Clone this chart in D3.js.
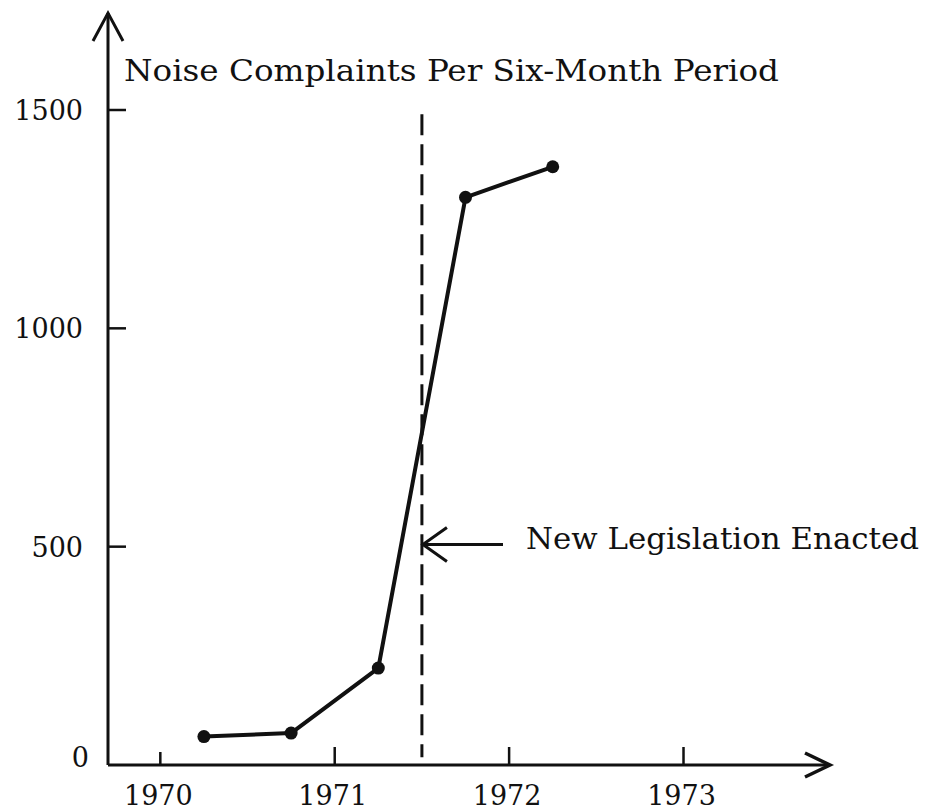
<!DOCTYPE html>
<html>
<head>
<meta charset="utf-8">
<script src="https://cdn.jsdelivr.net/npm/d3@7"></script>
<style>
  html, body { margin: 0; padding: 0; background: #fff; }
  svg { display: block; }
  text { font-family: "DejaVu Serif", "Liberation Serif", serif; fill: #111; }
</style>
</head>
<body>
<svg id="chart" width="930" height="812"></svg>
<script>
// Noise complaints per six-month period, plotted at the middle of each half-year
const periods = [1970.25, 1970.75, 1971.25, 1971.75, 1972.25];
const complaints = [65, 73, 222, 1300, 1370];

const yearTicks = [1970, 1971, 1972, 1973];
const valueTicks = [0, 500, 1000, 1500];

const legislationYear = 1971.5;
const titleText = "Noise Complaints Per Six-Month Period";
const noteText = "New Legislation Enacted";

const svg = d3.select("#chart");
const ink = "#111";

const x = d3.scaleLinear().domain([1969.7, 1973.84]).range([108, 830]);
const y = d3.scaleLinear().domain([0, 1500]).range([765, 110]);

const x0 = x.range()[0];
const y0 = y(0);

// Axes lines
svg.append("line")
  .attr("x1", x0).attr("x2", x0)
  .attr("y1", y0).attr("y2", y(1722))
  .attr("stroke", ink).attr("stroke-width", 3);
svg.append("line")
  .attr("x1", x0).attr("x2", x.range()[1])
  .attr("y1", y0).attr("y2", y0)
  .attr("stroke", ink).attr("stroke-width", 3);

// Open arrowheads at the axis ends
const yTip = [x0, y(1722)];
svg.append("path")
  .attr("d", `M${yTip[0] - 15},${yTip[1] + 28} L${yTip[0]},${yTip[1]} L${yTip[0] + 15},${yTip[1] + 28}`)
  .attr("fill", "none").attr("stroke", ink).attr("stroke-width", 3)
  .attr("stroke-linejoin", "miter");
const xTip = [x.range()[1], y0];
svg.append("path")
  .attr("d", `M${xTip[0] - 25},${xTip[1] - 12} L${xTip[0]},${xTip[1]} L${xTip[0] - 25},${xTip[1] + 12}`)
  .attr("fill", "none").attr("stroke", ink).attr("stroke-width", 3.5)
  .attr("stroke-linejoin", "miter");

// Y ticks (pointing right) and labels
const yAxis = svg.append("g").attr("class", "y-axis");
yAxis.selectAll("line.tick").data(valueTicks.filter(v => v > 0)).join("line")
  .attr("x1", x0).attr("x2", x0 + 18)
  .attr("y1", d => y(d)).attr("y2", d => y(d))
  .attr("stroke", ink).attr("stroke-width", 2.5);
yAxis.selectAll("text").data(valueTicks).join("text")
  .attr("x", d => d === 0 ? 89 : 83)
  .attr("y", d => y(d) + (d === 0 ? 2 : 10))
  .attr("text-anchor", "end")
  .attr("font-size", 27)
  .text(d => d);

// X ticks (pointing up) and labels
const xAxis = svg.append("g").attr("class", "x-axis");
xAxis.selectAll("line").data(yearTicks).join("line")
  .attr("x1", d => x(d)).attr("x2", d => x(d))
  .attr("y1", y0).attr("y2", d => y0 - (d === 1970 ? 13 : 18))
  .attr("stroke", ink).attr("stroke-width", 2.5);
xAxis.selectAll("text").data(yearTicks).join("text")
  .attr("x", d => x(d) - 2)
  .attr("y", 805)
  .attr("text-anchor", "middle")
  .attr("font-size", 27)
  .text(d => d);

// Title
svg.append("text")
  .attr("x", 124).attr("y", 81)
  .attr("font-size", 30)
  .attr("textLength", 655)
  .attr("lengthAdjust", "spacingAndGlyphs")
  .text(titleText);

// Legislation marker
svg.append("line")
  .attr("x1", x(legislationYear)).attr("x2", x(legislationYear))
  .attr("y1", y(1490)).attr("y2", y(18))
  .attr("stroke", ink).attr("stroke-width", 3)
  .attr("stroke-dasharray", "21,9");

// Series line and points
const line = d3.line().x((d, i) => x(periods[i])).y(d => y(d));
svg.append("path")
  .datum(complaints)
  .attr("d", line)
  .attr("fill", "none").attr("stroke", ink).attr("stroke-width", 4)
  .attr("stroke-linejoin", "round");
svg.selectAll("circle.pt").data(complaints).join("circle")
  .attr("class", "pt")
  .attr("cx", (d, i) => x(periods[i]))
  .attr("cy", d => y(d))
  .attr("r", 6.5)
  .attr("fill", ink);

// Annotation arrow and label
const noteY = y(505);
const tipX = x(legislationYear) + 1;
svg.append("line")
  .attr("x1", tipX).attr("x2", 503)
  .attr("y1", noteY).attr("y2", noteY)
  .attr("stroke", ink).attr("stroke-width", 3);
svg.append("path")
  .attr("d", `M${tipX + 24},${noteY - 17} L${tipX},${noteY} L${tipX + 24},${noteY + 17}`)
  .attr("fill", "none").attr("stroke", ink).attr("stroke-width", 3);
svg.append("text")
  .attr("x", 526).attr("y", noteY + 5)
  .attr("font-size", 30)
  .attr("textLength", 393)
  .attr("lengthAdjust", "spacingAndGlyphs")
  .text(noteText);
</script>
</body>
</html>
